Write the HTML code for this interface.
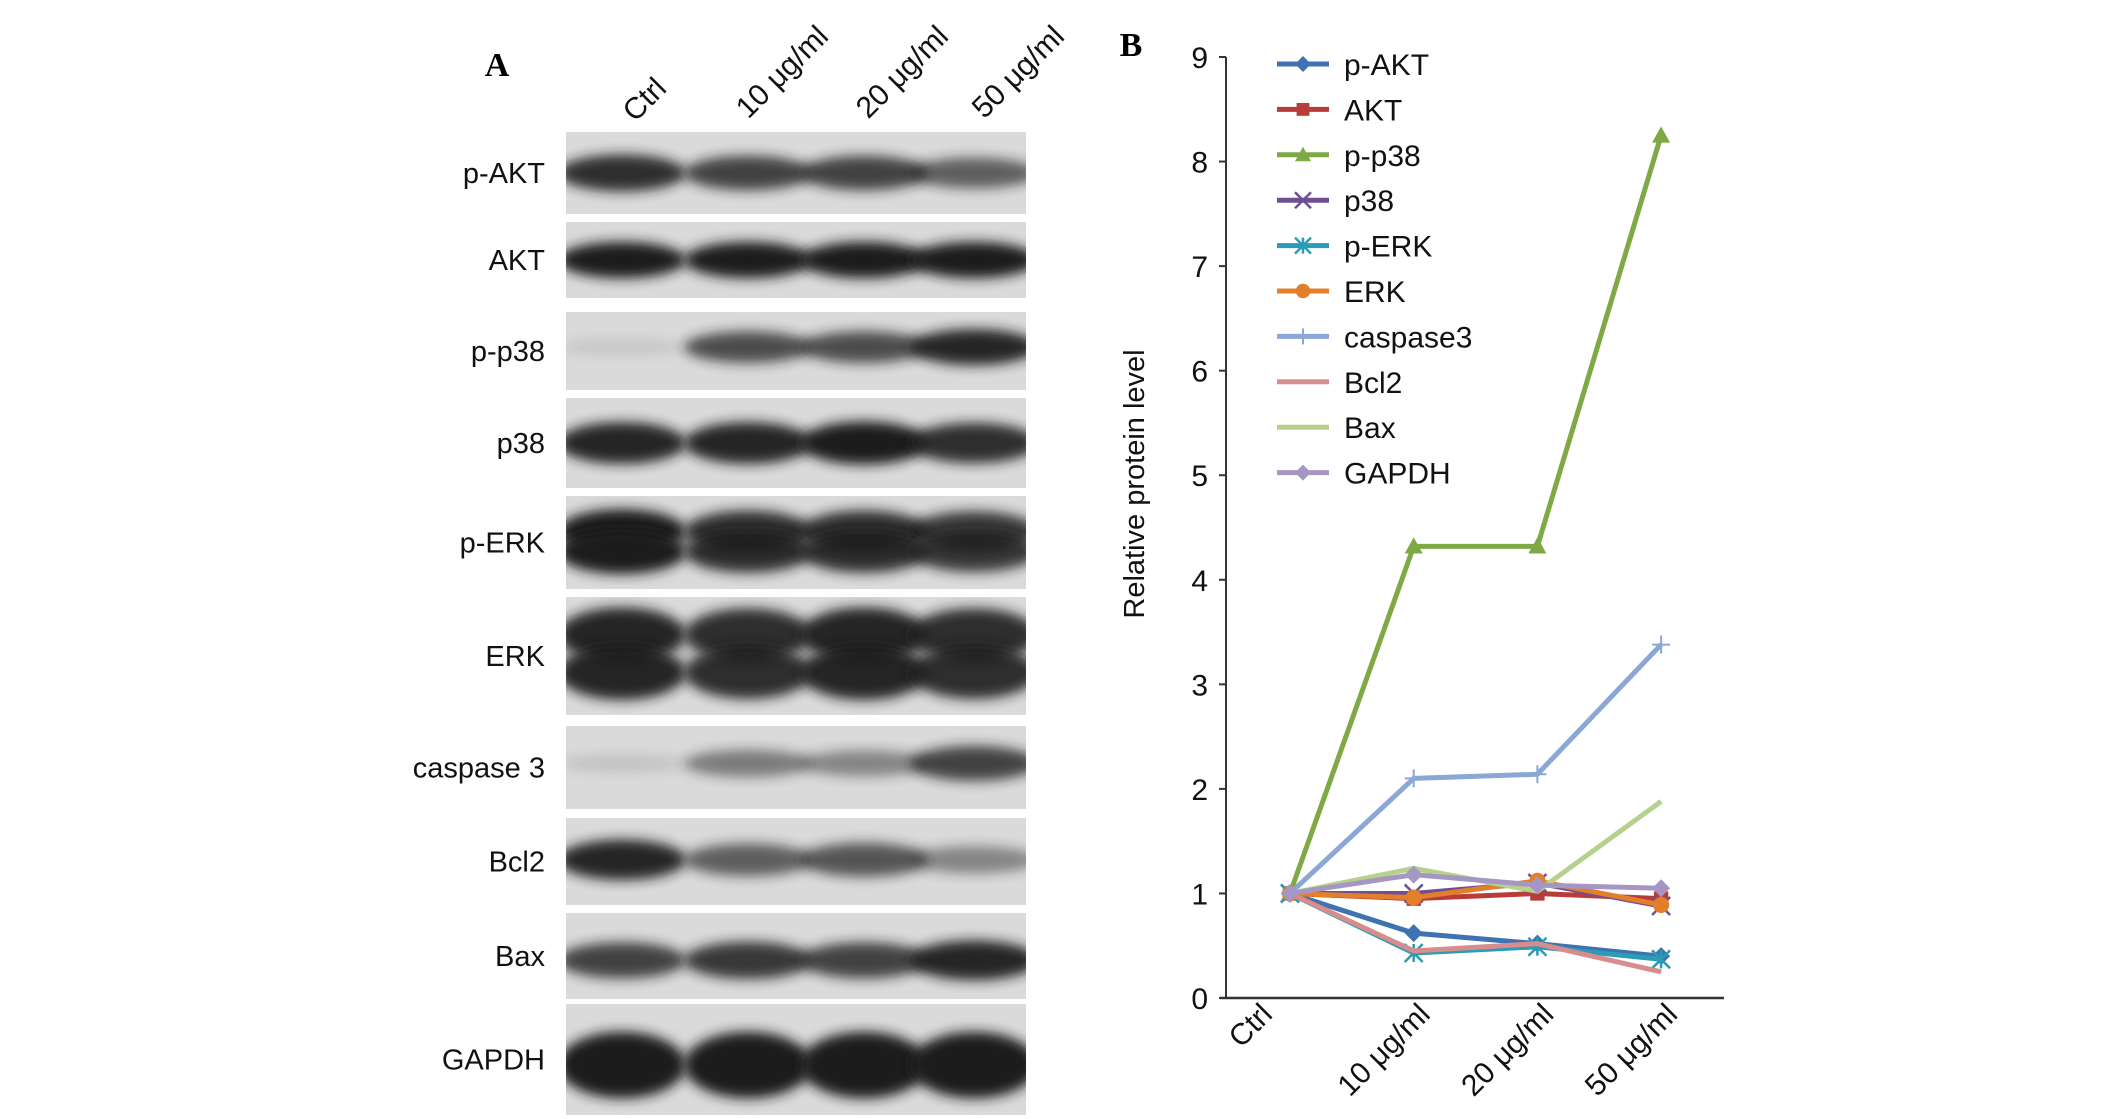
<!DOCTYPE html>
<html><head><meta charset="utf-8"><style>
html,body{margin:0;padding:0;background:#fff;}
svg{display:block;font-family:"Liberation Sans",sans-serif;}
</style></head><body>
<svg id="fig" width="2126" height="1119" viewBox="0 0 2126 1119" xmlns="http://www.w3.org/2000/svg">
<defs id="defs">
<filter id="blur" x="-20%" y="-50%" width="140%" height="200%"><feGaussianBlur stdDeviation="6"/></filter>
</defs>
<g id="panelA">
<text x="497" y="76" font-family="Liberation Serif,serif" font-weight="bold" font-size="34" text-anchor="middle">A</text>
</g>
<g id="panelB">
<text x="1131" y="56" font-family="Liberation Serif,serif" font-weight="bold" font-size="34" text-anchor="middle">B</text>
</g>
</svg>
<script>
const NS='http://www.w3.org/2000/svg';
// Chart data
const categories=['Ctrl','10 μg/ml','20 μg/ml','50 μg/ml'];
const yTicks=[0,1,2,3,4,5,6,7,8,9];
const seriesNames=['p-AKT','AKT','p-p38','p38','p-ERK','ERK','caspase3','Bcl2','Bax','GAPDH'];
const pAKT=[1,0.62,0.52,0.40];
const AKT=[1,0.95,1.0,0.95];
const pp38=[1,4.32,4.32,8.25];
const p38=[1,1.0,1.1,0.88];
const pERK=[1,0.43,0.49,0.37];
const ERK=[1,0.96,1.12,0.89];
const caspase3=[1,2.1,2.14,3.38];
const Bcl2=[1,0.45,0.52,0.25];
const Bax=[1,1.24,1.02,1.88];
const GAPDH=[1,1.18,1.08,1.05];
const seriesValues=[pAKT,AKT,pp38,p38,pERK,ERK,caspase3,Bcl2,Bax,GAPDH];
const seriesColors=['#3f72b0','#b83c3a','#7fa944','#6e4f94','#2c9bb5','#e37f2a','#8aa7d6','#d68d8b','#b5d18d','#a596c3'];
const seriesMarkers=['diamond','square','triangle','x','star','circle','plus','none','none','diamond'];
// Blot data
const blotLabels=['p-AKT','AKT','p-p38','p38','p-ERK','ERK','caspase 3','Bcl2','Bax','GAPDH'];
const laneLabels=['Ctrl','10 μg/ml','20 μg/ml','50 μg/ml'];
const blotIntensity=[[0.9,0.8,0.8,0.65],[1,1,1,1],[0.1,0.75,0.75,0.95],[0.95,0.95,1,0.9],[1,0.9,0.9,0.85],[0.95,0.9,0.95,0.9],[0.12,0.5,0.45,0.8],[0.95,0.65,0.7,0.45],[0.8,0.85,0.8,0.95],[1,1,1,1]];

function el(tag,attrs,parent){const e=document.createElementNS(NS,tag);for(const k in attrs)e.setAttribute(k,attrs[k]);parent.appendChild(e);return e;}

// ---- Panel A (blots) ----
const A=document.getElementById('panelA');
const defs=document.getElementById('defs');
const rowTop=[132,222,312,398,496,597,726,818,913,1004];
const rowBot=[214,298,390,488,589,715,809,905,999,1115];
const bandOffsets=[[0.5],[0.5],[0.45],[0.5],[0.38,0.6],[0.32,0.64],[0.45],[0.48],[0.55],[0.55]];
const laneX=[622,748,864,974];
const blotL=566,blotR=1026;
blotLabels.forEach((lab,i)=>{
  const cp=el('clipPath',{id:'clip'+i},defs);
  el('rect',{x:blotL,y:rowTop[i],width:blotR-blotL,height:rowBot[i]-rowTop[i]},cp);
  const g=el('g',{'clip-path':`url(#clip${i})`},A);
  
  
  el('rect',{x:blotL,y:rowTop[i],width:blotR-blotL,height:rowBot[i]-rowTop[i],fill:'#dadada'},g);
  const h=rowBot[i]-rowTop[i];
  bandOffsets[i].forEach(off=>{
    laneX.forEach((lx,j)=>{
      const v=blotIntensity[i][j];
      const b=el('ellipse',{cx:lx,cy:rowTop[i]+h*off,rx:64,ry:(i==9?h*0.3:Math.max(7,h*0.15*(0.6+v))),fill:'#1e1e1e',opacity:v,filter:'url(#blur)'},g);
      
      
    });
  });
  const t=el('text',{x:545,y:(rowTop[i]+rowBot[i])/2+10,'font-size':29,'text-anchor':'end',fill:'#111'},A);
  t.textContent=lab;
  
  
});
const laneLabelEnd=[[668,90],[830,38],[950,38],[1066,38]];
laneLabels.forEach((lab,j)=>{
  const x=laneLabelEnd[j][0],y=laneLabelEnd[j][1];
  const t=el('text',{x:x,y:y,'font-size':30,'text-anchor':'end',transform:`rotate(-45 ${x} ${y})`,fill:'#111'},A);
  t.textContent=lab;
  
  
});

// ---- Panel B (chart) ----
const B=document.getElementById('panelB');
const axX=1226,y0=998,yTop=57,ymax=9;
const catX0=1290,catStep=123.7;
function xs(i){return catX0+i*catStep;}
function ys(v){return y0-(v/ymax)*(y0-yTop);}
const ax=el('line',{x1:axX,y1:yTop,x2:axX,y2:y0,stroke:'#333','stroke-width':2},B);


const axh=el('line',{x1:axX-6,y1:y0,x2:1724,y2:y0,stroke:'#333','stroke-width':2.5},B);


yTicks.forEach(v=>{
  el('line',{x1:axX-7,y1:ys(v),x2:axX,y2:ys(v),stroke:'#333','stroke-width':2},B);
  const t=el('text',{x:1208,y:ys(v)+11,'font-size':30,'text-anchor':'end',fill:'#111'},B);
  t.textContent=v;
  
  
});
const yl=el('text',{x:1144,y:484,'font-size':29,'text-anchor':'middle',transform:'rotate(-90 1144 484)',fill:'#111'},B);
yl.textContent='Relative protein level';


categories.forEach((c,i)=>{
  const x=xs(i)+(i==0?-16:18),y=1016;
  const t=el('text',{x:x,y:y,'font-size':30,'text-anchor':'end',transform:`rotate(-45 ${x} ${y})`,fill:'#111'},B);
  t.textContent=c;
  
  
});
function marker(g,type,x,y,c,s){
  if(type=='diamond')el('polygon',{points:`${x},${y-s} ${x+s},${y} ${x},${y+s} ${x-s},${y}`,fill:c},g);
  else if(type=='square')el('rect',{x:x-s*0.8,y:y-s*0.8,width:s*1.6,height:s*1.6,fill:c},g);
  else if(type=='triangle')el('polygon',{points:`${x},${y-s} ${x+s},${y+s*0.8} ${x-s},${y+s*0.8}`,fill:c},g);
  else if(type=='circle')el('circle',{cx:x,cy:y,r:s*0.9,fill:c},g);
  else if(type=='x'){el('path',{d:`M${x-s} ${y-s}L${x+s} ${y+s}M${x-s} ${y+s}L${x+s} ${y-s}`,stroke:c,'stroke-width':2.5},g);}
  else if(type=='star'){el('path',{d:`M${x-s} ${y-s}L${x+s} ${y+s}M${x-s} ${y+s}L${x+s} ${y-s}M${x} ${y-s}L${x} ${y+s}`,stroke:c,'stroke-width':2.5},g);}
  else if(type=='plus'){el('path',{d:`M${x} ${y-s}L${x} ${y+s}M${x-s} ${y}L${x+s} ${y}`,stroke:c,'stroke-width':2},g);}
}
seriesNames.forEach((n,k)=>{
  const g=el('g',{},B);
  
  
  const vals=seriesValues[k];
  const pts=vals.map((v,i)=>xs(i)+','+ys(v)).join(' ');
  el('polyline',{points:pts,fill:'none',stroke:seriesColors[k],'stroke-width':5,'stroke-linejoin':'round'},g);
  vals.forEach((v,i)=>marker(g,seriesMarkers[k],xs(i),ys(v),seriesColors[k],9));
  // legend
  const ly=64+k*45.4;
  const lg=el('g',{},B);
  
  
  el('line',{x1:1277,y1:ly,x2:1329,y2:ly,stroke:seriesColors[k],'stroke-width':5},lg);
  marker(lg,seriesMarkers[k],1303,ly,seriesColors[k],8);
  const t=el('text',{x:1344,y:ly+11,'font-size':30,fill:'#111'},lg);
  t.textContent=n;
});
</script>
</body></html>
